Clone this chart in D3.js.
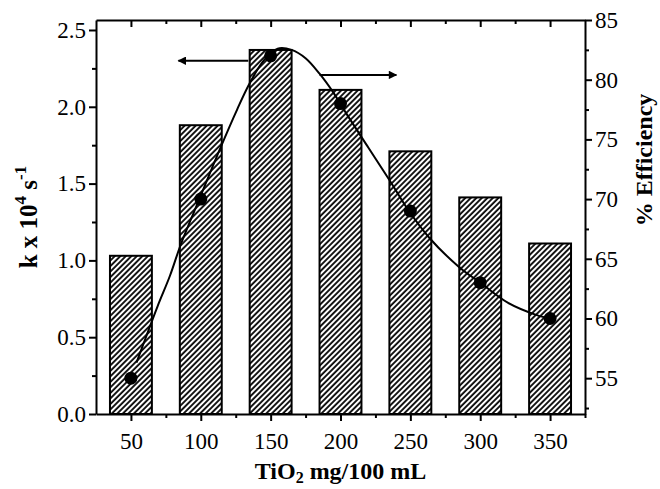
<!DOCTYPE html>
<html>
<head>
<meta charset="utf-8">
<script src="https://cdn.jsdelivr.net/npm/d3@7"></script>
<style>
  body { margin: 0; background: #fff; }
  svg text { font-family: "Liberation Serif", "Times New Roman", serif; fill: #000; }
</style>
</head>
<body>
<div class="chart-container"></div>
<script>
// TiO2 loading (mg/100 mL)
const conc = [50, 100, 150, 200, 250, 300, 350];
// rate constant k x 10^4 s^-1 (bars, left axis)
const rateK = [1.03, 1.88, 2.37, 2.11, 1.71, 1.41, 1.11];
// % efficiency (dots, right axis)
const efficiency = [55, 70, 82, 78, 69, 63, 60];
// fitted curve through the efficiency points
const fitX = [54, 60, 69, 78, 86, 100, 113, 126, 135, 145, 155, 165, 175, 185, 195, 204, 220, 235, 249, 264, 285, 300, 320, 340, 353];
const fitY = [56.3, 58.2, 61.0, 63.6, 66.3, 70.3, 74.0, 77.5, 79.7, 81.6, 82.6, 82.5, 81.8, 80.5, 78.9, 77.2, 74.3, 71.6, 69.0, 66.7, 64.3, 63.0, 61.3, 60.3, 59.9];

const xTicks = [50, 100, 150, 200, 250, 300, 350];
const xMinor = [75, 125, 175, 225, 275, 325, 375];
const leftTicks = [0, 0.5, 1.0, 1.5, 2.0, 2.5];
const leftMinor = [0.25, 0.75, 1.25, 1.75, 2.25];
const rightTicks = [55, 60, 65, 70, 75, 80, 85];
const rightMinor = [52.5, 57.5, 62.5, 67.5, 72.5, 77.5, 82.5];

const W = 660, H = 489;
const plot = {left: 96, right: 585, top: 20, bottom: 414};

const x = d3.scaleLinear().domain([25, 375]).range([plot.left, plot.right]);
const yL = d3.scaleLinear().domain([0, 2.565]).range([plot.bottom, plot.top]);
const yR = d3.scaleLinear().domain([52, 85]).range([plot.bottom, plot.top]);

const svg = d3.select('.chart-container').append('svg')
  .attr('width', W).attr('height', H);

const defs = svg.append('defs');
/* diagonal hatch for the bars */
defs.append('pattern')
  .attr('id', 'hatch')
  .attr('patternUnits', 'userSpaceOnUse')
  .attr('width', 3.9).attr('height', 3.9)
  .attr('patternTransform', 'rotate(45)')
  .append('line')
  .attr('x1', 1).attr('y1', 0).attr('x2', 1).attr('y2', 3.9)
  .attr('stroke', '#000').attr('stroke-width', 1.8);

defs.append('marker')
  .attr('id', 'arrow')
  .attr('viewBox', '0 0 10 10')
  .attr('refX', 9).attr('refY', 5)
  .attr('markerWidth', 7).attr('markerHeight', 4.2)
  .attr('markerUnits', 'strokeWidth')
  .attr('orient', 'auto')
  .append('path').attr('d', 'M0,0 L10,5 L0,10 Z').attr('fill', '#000');

/* bars */
const halfBar = 15;
svg.append('g').selectAll('rect')
  .data(conc)
  .enter().append('rect')
  .attr('x', (d) => x(d - halfBar))
  .attr('width', (d) => x(d + halfBar) - x(d - halfBar))
  .attr('y', (d, i) => yL(rateK[i]))
  .attr('height', (d, i) => yL(0) - yL(rateK[i]))
  .attr('fill', 'url(#hatch)')
  .attr('stroke', '#000').attr('stroke-width', 2);

/* fit curve + points */
const line = d3.line()
  .x((d) => x(d[0]))
  .y((d) => yR(d[1]))
  .curve(d3.curveCatmullRom);
svg.append('path')
  .datum(fitX.map((v, i) => [v, fitY[i]]))
  .attr('d', line)
  .attr('fill', 'none').attr('stroke', '#000').attr('stroke-width', 2);

svg.append('g').selectAll('circle')
  .data(conc)
  .enter().append('circle')
  .attr('cx', (d) => x(d))
  .attr('cy', (d, i) => yR(efficiency[i]))
  .attr('r', 6.5)
  .attr('fill', '#000');

/* arrows showing which axis belongs to which series */
svg.append('line')
  .attr('x1', x(134)).attr('x2', x(84))
  .attr('y1', yL(2.30)).attr('y2', yL(2.30))
  .attr('stroke', '#000').attr('stroke-width', 2)
  .attr('marker-end', 'url(#arrow)');
svg.append('line')
  .attr('x1', x(185)).attr('x2', x(240))
  .attr('y1', yR(80.4)).attr('y2', yR(80.4))
  .attr('stroke', '#000').attr('stroke-width', 2)
  .attr('marker-end', 'url(#arrow)');

/* axes */
function styleAxis(g) {
  g.select('.domain').attr('stroke', '#000').attr('stroke-width', 2);
  g.selectAll('.tick line').attr('stroke', '#000').attr('stroke-width', 2);
  g.selectAll('.tick text').style('font-size', '23px');
}

const xAxis = svg.append('g')
  .attr('transform', `translate(0,${plot.bottom})`)
  .call(d3.axisBottom(x).tickValues(xTicks).tickSize(7).tickSizeOuter(0).tickPadding(12).tickFormat(d3.format('d')));
styleAxis(xAxis);
svg.append('g')
  .attr('transform', `translate(0,${plot.bottom})`)
  .call(d3.axisBottom(x).tickValues(xMinor).tickSize(4).tickFormat(''))
  .call((g) => { g.select('.domain').remove(); styleAxis(g); });

const topAxis = svg.append('g')
  .attr('transform', `translate(0,${plot.top})`)
  .call(d3.axisBottom(x).tickValues(xTicks).tickSize(7).tickSizeOuter(0).tickFormat(''));
styleAxis(topAxis);
svg.append('g')
  .attr('transform', `translate(0,${plot.top})`)
  .call(d3.axisBottom(x).tickValues(xMinor.filter((v) => v < 375)).tickSize(4).tickFormat(''))
  .call((g) => { g.select('.domain').remove(); styleAxis(g); });

const leftAxis = svg.append('g')
  .attr('transform', `translate(${plot.left},0)`)
  .call(d3.axisLeft(yL).tickValues(leftTicks).tickSize(7).tickSizeOuter(0).tickPadding(3).tickFormat(d3.format('.1f')));
styleAxis(leftAxis);
svg.append('g')
  .attr('transform', `translate(${plot.left},0)`)
  .call(d3.axisLeft(yL).tickValues(leftMinor).tickSize(4).tickFormat(''))
  .call((g) => { g.select('.domain').remove(); styleAxis(g); });

const rightAxis = svg.append('g')
  .attr('transform', `translate(${plot.right},0)`)
  .call(d3.axisRight(yR).tickValues(rightTicks).tickSize(7).tickSizeOuter(0).tickPadding(3).tickFormat(d3.format('d')));
styleAxis(rightAxis);
svg.append('g')
  .attr('transform', `translate(${plot.right},0)`)
  .call(d3.axisRight(yR).tickValues(rightMinor).tickSize(4).tickFormat(''))
  .call((g) => { g.select('.domain').remove(); styleAxis(g); });

/* axis titles */
const xt = svg.append('text')
  .attr('x', (plot.left + plot.right) / 2).attr('y', 479)
  .attr('text-anchor', 'middle')
  .style('font-size', '24px').style('font-weight', 'bold');
xt.append('tspan').text('TiO');
xt.append('tspan').attr('dy', 4).style('font-size', '16px').text('2');
xt.append('tspan').attr('dy', -4).text(' mg/100 mL');

const lt = svg.append('text')
  .attr('transform', `translate(37,${(plot.top + plot.bottom) / 2}) rotate(-90)`)
  .attr('text-anchor', 'middle')
  .style('font-size', '25px').style('font-weight', 'bold');
lt.append('tspan').text('k x 10');
lt.append('tspan').attr('dy', -11).style('font-size', '17px').text('4');
lt.append('tspan').attr('dy', 11).text(' s');
lt.append('tspan').attr('dy', -11).style('font-size', '17px').text('-1');

svg.append('text')
  .attr('transform', `translate(652,160) rotate(-90)`)
  .attr('text-anchor', 'middle')
  .style('font-size', '24px').style('font-weight', 'bold')
  .text('% Efficiency');
</script>
</body>
</html>
